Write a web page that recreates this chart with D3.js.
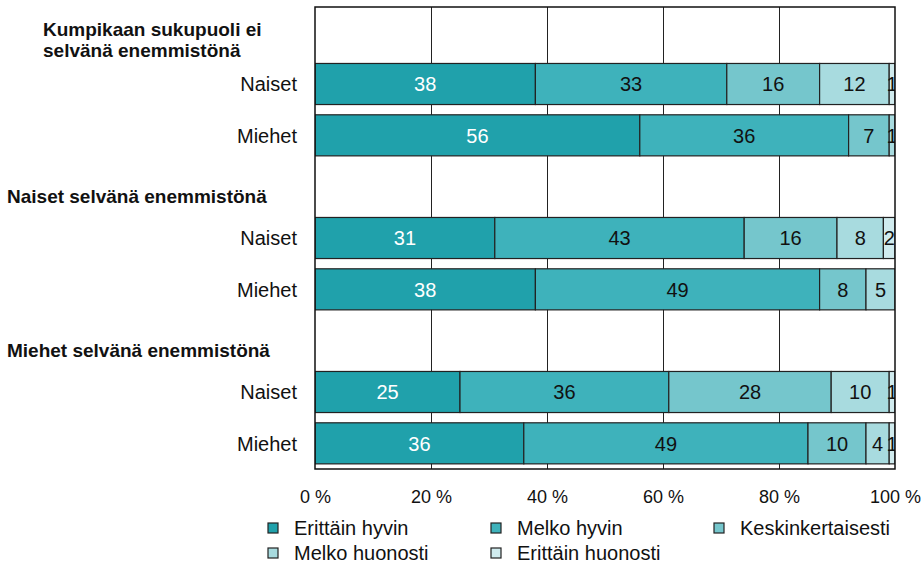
<!DOCTYPE html>
<html>
<head>
<meta charset="utf-8">
<script src="https://cdn.jsdelivr.net/npm/d3@7"></script>
<style>
  body { margin: 0; background: #fff; }
  svg { display: block; font-family: "Liberation Sans", Arial, sans-serif; }
</style>
</head>
<body>
<div id="chartWrapper"></div>
<script>
//data
const seriesNames = ['Erittäin hyvin', 'Melko hyvin', 'Keskinkertaisesti', 'Melko huonosti', 'Erittäin huonosti'];
const seriesColors = ['#20a1ab', '#3eb2bb', '#75c6cc', '#a8dbdf', '#d0ebee'];
const groupHeaders = [
    ['Kumpikaan sukupuoli ei', 'selvänä enemmistönä'],
    ['Naiset selvänä enemmistönä'],
    ['Miehet selvänä enemmistönä']
];
const genders = ['Naiset', 'Miehet'];
// one row per bar: [Erittäin hyvin, Melko hyvin, Keskinkertaisesti, Melko huonosti, Erittäin huonosti]
const valuesEqual = [[38, 33, 16, 12, 1], [56, 36, 7, 1, 0]];
const valuesWomen = [[31, 43, 16, 8, 2], [38, 49, 8, 5, 0]];
const valuesMen = [[25, 36, 28, 10, 1], [36, 49, 10, 4, 1]];
const tickValues = [0, 20, 40, 60, 80, 100];

const CONSTANTS = {
    WIDTH: 923,
    HEIGHT: 574,
    PLOT_LEFT: 315,
    PLOT_RIGHT: 895,
    PLOT_TOP: 7,
    PLOT_BOTTOM: 469,
    FONT_SIZE: 20,
    HEADER_SIZE: 19
};

//build the row list: header slot followed by one slot per gender
const groupValues = [valuesEqual, valuesWomen, valuesMen];
const rows = [];
groupHeaders.forEach((header, g) => {
    rows.push({id: 'h' + g, header: header, headerX: g === 0 ? 43 : 7});
    genders.forEach((gender, i) => {
        rows.push({id: 'r' + g + i, label: gender, values: groupValues[g][i]});
    });
});

const svg = d3.select('#chartWrapper')
    .append('svg')
    .attr('width', CONSTANTS.WIDTH)
    .attr('height', CONSTANTS.HEIGHT);

const x = d3.scaleLinear()
    .domain([0, 100])
    .range([CONSTANTS.PLOT_LEFT, CONSTANTS.PLOT_RIGHT]);

const y = d3.scaleBand()
    .domain(rows.map(r => r.id))
    .range([CONSTANTS.PLOT_TOP, CONSTANTS.PLOT_BOTTOM])
    .paddingInner(0.2)
    .paddingOuter(0.1);

svg.append('clipPath')
    .attr('id', 'plotClip')
    .append('rect')
    .attr('x', CONSTANTS.PLOT_LEFT)
    .attr('y', CONSTANTS.PLOT_TOP)
    .attr('width', CONSTANTS.PLOT_RIGHT - CONSTANTS.PLOT_LEFT)
    .attr('height', CONSTANTS.PLOT_BOTTOM - CONSTANTS.PLOT_TOP);

//gridlines
svg.append('g')
    .selectAll('line')
    .data(tickValues.slice(1, -1))
    .join('line')
    .attr('x1', d => x(d) + 0.5)
    .attr('x2', d => x(d) + 0.5)
    .attr('y1', CONSTANTS.PLOT_TOP)
    .attr('y2', CONSTANTS.PLOT_BOTTOM)
    .attr('stroke', '#222')
    .attr('stroke-width', 1);

//stacked bars
const barRows = rows.filter(r => r.values);
const stack = d3.stack().keys(d3.range(seriesNames.length))(barRows.map(r => r.values));

const barGroup = svg.append('g').attr('clip-path', 'url(#plotClip)');

stack.forEach((layer, s) => {
    const segs = layer.map((d, i) => ({x0: d[0], x1: d[1], row: barRows[i], v: barRows[i].values[s]}))
        .filter(d => d.v > 0);

    barGroup.append('g')
        .selectAll('rect')
        .data(segs)
        .join('rect')
        .attr('x', d => x(d.x0))
        .attr('y', d => y(d.row.id))
        .attr('width', d => x(d.x1) - x(d.x0))
        .attr('height', y.bandwidth())
        .attr('fill', seriesColors[s])
        .attr('stroke', '#222')
        .attr('stroke-width', 1.2);

    barGroup.append('g')
        .selectAll('text')
        .data(segs)
        .join('text')
        .attr('x', d => (x(d.x0) + x(d.x1)) / 2)
        .attr('y', d => y(d.row.id) + y.bandwidth() / 2)
        .attr('dy', '0.36em')
        .attr('text-anchor', 'middle')
        .attr('font-size', CONSTANTS.FONT_SIZE)
        .attr('fill', s === 0 ? '#fff' : '#111')
        .text(d => d.v);
});

//plot border
svg.append('rect')
    .attr('x', CONSTANTS.PLOT_LEFT)
    .attr('y', CONSTANTS.PLOT_TOP)
    .attr('width', CONSTANTS.PLOT_RIGHT - CONSTANTS.PLOT_LEFT)
    .attr('height', CONSTANTS.PLOT_BOTTOM - CONSTANTS.PLOT_TOP)
    .attr('fill', 'none')
    .attr('stroke', '#111')
    .attr('stroke-width', 1.5);

//category labels
svg.append('g')
    .selectAll('text')
    .data(barRows)
    .join('text')
    .attr('x', 297)
    .attr('y', d => y(d.id) + y.bandwidth() / 2)
    .attr('dy', '0.36em')
    .attr('text-anchor', 'end')
    .attr('font-size', CONSTANTS.FONT_SIZE)
    .attr('fill', '#111')
    .text(d => d.label);

//group headers
const headerRows = rows.filter(r => r.header);
headerRows.forEach(r => {
    const base = r.header.length > 1 ? 36 : y(r.id) + y.bandwidth() - 4;
    r.header.forEach((line, li) => {
        svg.append('text')
            .attr('x', r.headerX)
            .attr('y', base + li * 21)
            .attr('font-size', CONSTANTS.HEADER_SIZE)
            .attr('font-weight', 'bold')
            .attr('fill', '#111')
            .text(line);
    });
});

//x axis labels
const xAxis = d3.axisBottom(x)
    .tickValues(tickValues)
    .tickSize(0)
    .tickPadding(0)
    .tickFormat(d => d + ' %');

svg.append('g')
    .attr('transform', 'translate(0,' + CONSTANTS.PLOT_BOTTOM + ')')
    .call(xAxis)
    .call(g => g.select('.domain').remove())
    .selectAll('text')
    .attr('y', 28)
    .attr('dy', '0.36em')
    .attr('font-family', '"Liberation Sans", Arial, sans-serif')
    .attr('font-size', 18)
    .attr('fill', '#111');

//legend
const legend = svg.append('g');
seriesNames.forEach((name, i) => {
    const col = i % 3;
    const row = Math.floor(i / 3);
    const lx = 268 + col * 223;
    const ly = 528 + row * 25;
    legend.append('rect')
        .attr('x', lx)
        .attr('y', ly - 5)
        .attr('width', 10)
        .attr('height', 10)
        .attr('fill', seriesColors[i])
        .attr('stroke', '#222')
        .attr('stroke-width', 1.2);
    legend.append('text')
        .attr('x', lx + 26)
        .attr('y', ly)
        .attr('dy', '0.36em')
        .attr('font-size', CONSTANTS.FONT_SIZE)
        .attr('fill', '#111')
        .text(name);
});
</script>
</body>
</html>
